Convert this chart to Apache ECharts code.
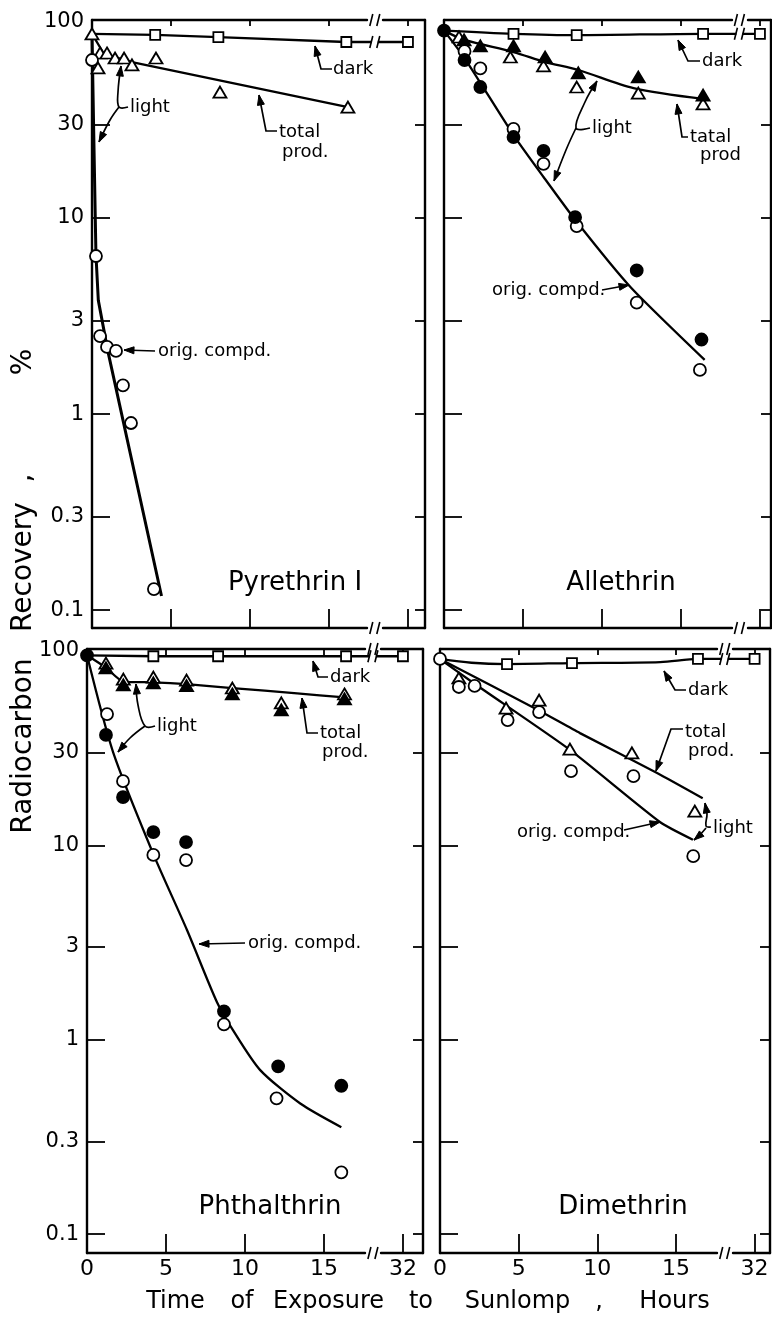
<!DOCTYPE html>
<html><head><meta charset="utf-8">
<script src="https://cdn.jsdelivr.net/npm/echarts@6/dist/echarts.min.js"></script>
<style>html,body{margin:0;padding:0;background:#fff}#c{width:772px;height:1318px}</style>
</head><body><div id="c"></div><script>
// ---------------- DATA (hours, % recovery) ----------------
const xTickVals = [5, 10, 15, 32];
const xLabelVals = [0, 5, 10, 15, 32];
const yTickVals = [0.1, 0.3, 1, 3, 10, 30];
const yLabelVals = [0.1, 0.3, 1, 3, 10, 30, 100];
const panelNames = ['Pyrethrin I', 'Allethrin', 'Phthalthrin', 'Dimethrin'];

// Pyrethrin I
const pyrStart = [[0, 87]];
const pyrDark = [[4, 85.9], [8, 83.8], [16.1, 79.1], [32, 79.1]];
const pyrDarkLine = [[0, 87], [4, 85.9], [8, 83.8], [16.1, 79.1], [32, 79.1]];
const pyrTotalOpen = [[0.51, 69.5], [0.95, 69.5], [1.46, 65.5], [2.03, 65.5], [2.53, 60.4], [0.38, 58.3], [4.05, 65.5], [8.1, 43.9], [16.2, 36.8]];
const pyrTotalLine = [[0, 87], [0.8, 67.9], [1.5, 66], [2.53, 62.5], [16.2, 36.8]];
const pyrOrigOpen = [[0, 64], [0.25, 6.4], [0.51, 2.5], [0.95, 2.2], [1.52, 2.1], [1.96, 1.4], [2.47, 0.9], [3.92, 0.128]];
const pyrOrigLine = [[0, 87], [0.1, 30], [0.25, 6.5], [0.4, 3.8], [1.0, 2.1], [4.4, 0.118]];

// Allethrin
const allStart = [[0, 90.4]];
const allDark = [[4.4, 87.1], [8.4, 85.7], [16.4, 87.1], [32, 87.1]];
const allDarkLine = [[0, 90.4], [4.4, 87.1], [8.4, 85.7], [16.4, 87.1], [32, 87.1]];
const allTotalFilled = [[1.27, 81], [2.3, 75.5], [4.4, 75.5], [6.4, 66.3], [8.5, 55], [12.3, 52.4], [16.4, 42.4]];
const allTotalOpen = [[0.95, 83.9], [4.2, 66.3], [6.3, 59.7], [8.4, 46.6], [12.3, 43.4], [16.4, 38.2]];
const allTotalLine = [[0, 90.4], [1.3, 81], [4.4, 70.3], [6.4, 62.5], [8.5, 56.9], [12, 46], [16.4, 40.5]];
const allOrigOpen = [[1.3, 71], [2.3, 58], [4.4, 28.5], [6.3, 18.9], [8.4, 9.1], [12.2, 3.7], [16.2, 1.68]];
const allOrigFilled = [[1.3, 64], [2.3, 46.6], [4.4, 25.9], [6.3, 22], [8.3, 10.1], [12.2, 5.4], [16.3, 2.4]];
const allOrigLine = [[0, 90.4], [1.3, 65.5], [4.4, 26.5], [6.3, 16.2], [8.3, 9.8], [11.8, 4.45], [16.5, 1.89]];

// Phthalthrin
const phtStart = [[0, 95]];
const phtDark = [[4.2, 94], [8.3, 94], [16.4, 94], [32, 94]];
const phtDarkLine = [[0, 95], [4.2, 94], [8.3, 94], [16.4, 94], [32, 94]];
const phtTotalOpen = [[1.2, 86.7], [2.3, 71.7], [4.2, 73.3], [6.3, 70.8], [9.2, 64.5], [12.3, 54.1], [16.3, 60.1]];
const phtTotalFilled = [[1.2, 81.9], [2.3, 67.0], [4.2, 68.5], [6.3, 66.3], [9.2, 60.1], [12.3, 49.8], [16.3, 56.7]];
const phtTotalLine = [[0, 95], [1.2, 82], [2.3, 69.6], [4.2, 69], [6.3, 67.5], [9.2, 64.5], [13.3, 60.5], [16.3, 57.8]];
const phtOrigOpen = [[1.27, 47.4], [2.28, 21.4], [4.2, 8.93], [6.27, 8.4], [8.67, 1.2], [12.0, 0.5], [16.1, 0.208]];
const phtOrigFilled = [[1.2, 37.0], [2.28, 17.7], [4.2, 11.7], [6.27, 10.4], [8.67, 1.4], [12.1, 0.73], [16.1, 0.58]];
const phtOrigLine = [[0, 95], [1.65, 30.2], [4.18, 9.1], [6.33, 3.67], [8.23, 1.56], [9.24, 1.12], [10.95, 0.70], [13.5, 0.47], [16.1, 0.355]];

// Dimethrin
const dimStart = [[0, 91]];
const dimDark = [[4.26, 85.7], [8.39, 86.7], [16.4, 91], [32, 91]];
const dimDarkLine = [[0, 91], [2, 87], [4.26, 85.7], [8.39, 86.7], [14, 87.7], [16.4, 91], [32, 91]];
const dimTotalOpen = [[1.2, 72.6], [4.2, 50.8], [6.3, 55.9], [8.26, 31.3], [12.2, 29.9], [16.2, 15.0]];
const dimTotalLine = [[0, 91], [6.23, 49.7], [8.9, 37.8], [13.8, 23.6], [16.7, 17.5]];
const dimOrigOpen = [[1.2, 65.3], [2.2, 66.1], [4.3, 44.1], [6.3, 48.5], [8.33, 24.1], [12.3, 22.7], [16.1, 8.8]];
const dimOrigLine = [[0, 91], [2.22, 67.6], [8.26, 31.0], [13.98, 13.2], [16.08, 10.7]];

// ---------------- LAYOUT ----------------
const FONT = "'DejaVu Sans', sans-serif";
const layout = [
  {left: 92, top: 20, width: 333, height: 608, xMax: 33.08, brk: 17.4, yMin: 0.081, yMax: 102.4, xLab: false, yLab: true},
  {left: 444, top: 20, width: 327, height: 608, xMax: 32.7, brk: 18.2, yMin: 0.081, yMax: 102.4, xLab: false, yLab: false},
  {left: 87, top: 649, width: 336, height: 604, xMax: 33.27, brk: 17.6, yMin: 0.08, yMax: 102.4, xLab: true, yLab: true},
  {left: 440, top: 649, width: 330, height: 604, xMax: 32.98, brk: 17.6, yMin: 0.08, yMax: 102.4, xLab: true, yLab: false}
];
const seriesSpec = [
  [['line', pyrDarkLine, 2.3], ['line', pyrTotalLine, 2.3], ['line', pyrOrigLine, 3],
   ['sq', pyrDark], ['otri', pyrTotalOpen], ['ocirc', pyrOrigOpen], ['otri', pyrStart]],
  [['line', allDarkLine, 2.3, 0.3], ['line', allTotalLine, 2.3, 0.3], ['line', allOrigLine, 2.3, 0.2],
   ['sq', allDark], ['otri', allTotalOpen], ['ftri', allTotalFilled], ['ocirc', allOrigOpen], ['fcirc', allOrigFilled], ['fcirc', allStart]],
  [['line', phtDarkLine, 2.3], ['line', phtTotalLine, 2.3, 0.2], ['line', phtOrigLine, 2.3, 0.25],
   ['sq', phtDark], ['otri', phtTotalOpen], ['ftri', phtTotalFilled], ['ocirc', phtOrigOpen], ['fcirc', phtOrigFilled], ['fcirc', phtStart]],
  [['line', dimDarkLine, 2.3, 0.3], ['line', dimTotalLine, 2.3, 0.2], ['line', dimOrigLine, 2.3, 0.2],
   ['sq', dimDark], ['otri', dimTotalOpen], ['ocirc', dimOrigOpen], ['ocirc', dimStart]]
];
const darkLevels = [pyrDark, allDark, phtDark, dimDark].map(a => a[a.length - 1][1]);

const grids = [], xAxes = [], yAxes = [], series = [];
layout.forEach((L, gi) => {
  grids.push({left: L.left, top: L.top, width: L.width, height: L.height, show: false});
  const xc = {type: 'value', gridIndex: gi, min: 0, max: L.xMax,
    breaks: [{start: L.brk, end: L.brk + 13, gap: 1}], breakArea: {show: false},
    axisLine: {show: true, onZero: false, lineStyle: {color: '#000', width: 2.4}}, splitLine: {show: false}};
  xAxes.push(Object.assign({}, xc, {position: 'bottom',
    axisTick: {show: true, inside: true, length: 19, customValues: xTickVals, lineStyle: {color: '#000', width: 1.8}},
    axisLabel: {show: L.xLab, customValues: xLabelVals, margin: 5, color: '#000', fontSize: 22, fontFamily: FONT}}));
  xAxes.push(Object.assign({}, xc, {position: 'top',
    axisTick: {show: true, inside: true, length: 6, customValues: xTickVals, lineStyle: {color: '#000', width: 1.8}},
    axisLabel: {show: false}}));
  const yc = {type: 'log', logBase: 10, gridIndex: gi, min: L.yMin, max: L.yMax,
    axisLine: {show: true, onZero: false, lineStyle: {color: '#000', width: 2.4}}, splitLine: {show: false}, minorTick: {show: false}};
  yAxes.push(Object.assign({}, yc, {position: 'left',
    axisTick: {show: true, inside: true, length: 18, customValues: yTickVals, lineStyle: {color: '#000', width: 1.8}},
    axisLabel: {show: L.yLab, customValues: yLabelVals, margin: 8, color: '#000', fontSize: 21, fontFamily: FONT,
      formatter: v => String(+(+v).toPrecision(3))}}));
  yAxes.push(Object.assign({}, yc, {position: 'right',
    axisTick: {show: true, inside: true, length: 10, customValues: yTickVals, lineStyle: {color: '#000', width: 1.8}},
    axisLabel: {show: false}}));
  seriesSpec[gi].forEach(s => {
    const base = {xAxisIndex: 2 * gi, yAxisIndex: 2 * gi, data: s[1], silent: true, animation: false};
    if (s[0] === 'line') {
      series.push(Object.assign(base, {type: 'line', symbol: 'none', showSymbol: false, smooth: s[3] || false,
        lineStyle: {color: '#000', width: s[2]}, z: 2}));
    } else {
      const map = {sq: ['rect', 10, false], otri: ['triangle', [13, 11], false], ftri: ['triangle', [13, 11], true],
        ocirc: ['circle', 12, false], fcirc: ['circle', 12, true]};
      const m = map[s[0]];
      series.push(Object.assign(base, {type: 'scatter', symbol: m[0], symbolSize: m[1],
        itemStyle: {color: m[2] ? '#000' : '#fff', borderColor: '#000', borderWidth: 1.8, opacity: 1}, z: 5}));
    }
  });
});

const chart = echarts.init(document.getElementById('c'), null, {renderer: 'canvas'});
chart.setOption({animation: false, backgroundColor: '#fff', grid: grids, xAxis: xAxes, yAxis: yAxes, series: series});

// ---------------- ANNOTATIONS ----------------
const texts = [
  ['dark', 333, 69], ['light', 130, 107], ['total', 279, 132], ['prod.', 282, 152], ['orig. compd.', 158, 351],
  ['dark', 702, 61], ['light', 592, 128], ['tatal', 690, 137], ['prod', 700, 155], ['orig. compd.', 492, 290],
  ['dark', 330, 677], ['light', 157, 726], ['total', 320, 733], ['prod.', 322, 752], ['orig. compd.', 248, 943],
  ['dark', 688, 690], ['total', 685, 732], ['prod.', 688, 751], ['orig. compd.', 517, 832], ['light', 713, 828]
];
const leaders = [
  [[[332, 69], [321, 69], [315, 46]], 0],
  [[[128, 107], [119, 107], [118, 92], [121, 66]], 0.4],
  [[[119, 107], [110, 120], [99, 142]], 0.4],
  [[[277, 131], [266, 131], [259, 95]], 0],
  [[[155, 351], [124, 350]], 0],
  [[[700, 61], [688, 61], [678, 40]], 0],
  [[[590, 128], [576, 128], [585, 102], [597, 81]], 0.4],
  [[[576, 128], [566, 150], [554, 181]], 0.4],
  [[[688, 137], [682, 137], [677, 104]], 0],
  [[[602, 290], [629, 285]], 0],
  [[[328, 677], [318, 677], [313, 661]], 0],
  [[[155, 726], [145, 726], [138, 705], [136, 684]], 0.4],
  [[[145, 726], [130, 738], [118, 752]], 0.4],
  [[[318, 733], [307, 733], [302, 698]], 0],
  [[[245, 943], [199, 944]], 0],
  [[[686, 690], [675, 690], [664, 671]], 0],
  [[[683, 729], [671, 729], [656, 771]], 0],
  [[[624, 830], [660, 822]], 0],
  [[[711, 827], [706, 826], [707, 814], [705, 803]], 0.4],
  [[[706, 828], [700, 835], [694, 840]], 0]
];
const panelLabelPos = [[295, 583], [621, 583], [270, 1207], [623, 1207]];
const xTitle = [['Time', 175.5], ['of', 242], ['Exposure', 328.5], ['to', 421], ['Sunlomp', 517.5], [',', 599], ['Hours', 674.5]];
const yTitle = [['Radiocarbon', 746], ['Recovery', 567], [',', 478], ['%', 362]];

function txt(t, x, y, size, align, rot) {
  return {type: 'text', x: x, y: y, rotation: rot || 0, z: 50, silent: true,
    style: {text: t, x: 0, y: 0, fill: '#000', font: size + 'px ' + FONT, fontSize: size, fontFamily: FONT,
      textAlign: align, align: align, textVerticalAlign: 'middle', verticalAlign: 'middle'}};
}
const g = [];
texts.forEach(t => g.push(txt(t[0], t[1], t[2], 18, 'left')));
panelLabelPos.forEach((p, i) => g.push(txt(panelNames[i], p[0], p[1], 26, 'center')));
xTitle.forEach(w => g.push(txt(w[0], w[1], 1302, 24, 'center')));
yTitle.forEach(w => g.push(txt(w[0], 24, w[1], 28, 'center', Math.PI / 2)));
leaders.forEach(l => {
  const pts = l[0];
  g.push({type: 'polyline', z: 50, silent: true, shape: {points: pts, smooth: l[1]},
    style: {stroke: '#000', lineWidth: 1.7, fill: null}});
  const a = pts[pts.length - 1], b = pts[pts.length - 2];
  const dx = a[0] - b[0], dy = a[1] - b[1], len = Math.hypot(dx, dy) || 1;
  const ux = dx / len, uy = dy / len, hl = 10, hw = 3.5;
  g.push({type: 'polygon', z: 51, silent: true, shape: {points: [a,
    [a[0] - ux * hl - uy * hw, a[1] - uy * hl + ux * hw], [a[0] - ux * hl + uy * hw, a[1] - uy * hl - ux * hw]]},
    style: {fill: '#000', stroke: '#000', lineWidth: 1}});
});
// axis-break marks
layout.forEach((L, gi) => {
  const p1 = chart.convertToPixel({xAxisIndex: 2 * gi}, L.brk);
  const p2 = chart.convertToPixel({xAxisIndex: 2 * gi}, L.brk + 13);
  const xb = (p1 + p2) / 2;
  const yd = chart.convertToPixel({yAxisIndex: 2 * gi}, darkLevels[gi]);
  [L.top, L.top + L.height, yd].forEach(y => {
    g.push({type: 'rect', z: 60, silent: true, shape: {x: xb - 3, y: y - 3, width: 6, height: 6}, style: {fill: '#fff'}});
    g.push({type: 'line', z: 61, silent: true, shape: {x1: xb - 5, y1: y + 6, x2: xb - 2, y2: y - 6}, style: {stroke: '#000', lineWidth: 1.6}});
    g.push({type: 'line', z: 61, silent: true, shape: {x1: xb + 2, y1: y + 6, x2: xb + 5, y2: y - 6}, style: {stroke: '#000', lineWidth: 1.6}});
  });
});
chart.setOption({graphic: g});
</script></body></html>
